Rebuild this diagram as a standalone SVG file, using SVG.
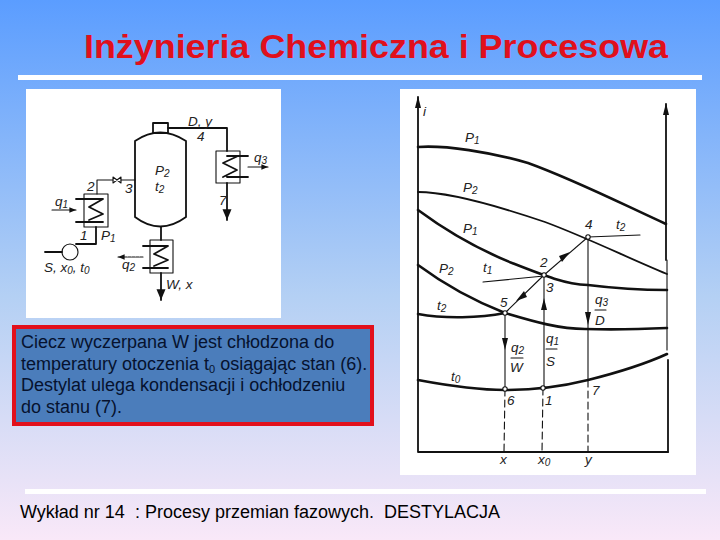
<svg xmlns="http://www.w3.org/2000/svg" width="720" height="540" viewBox="0 0 720 540">
<style>
text{font-family:"Liberation Sans",Arial,sans-serif}
.l{font-size:13.5px;font-style:italic;fill:#222}
.l tspan.s{font-size:10px}
.c{fill:none;stroke:#111;stroke-linecap:round;stroke-linejoin:round}
.t{stroke-width:2.6}.m{stroke-width:1.8}.n{stroke-width:1.1}
.d{stroke-dasharray:7 4}
.p{fill:#fff;stroke:#111;stroke-width:1.1}
.b{font-size:18px;fill:#06122e}
</style>
<defs>
<linearGradient id="bg" x1="0" y1="0" x2="0" y2="1"><stop offset="0" stop-color="#5b9dff"/><stop offset=".55" stop-color="#b4d0f4"/><stop offset="1" stop-color="#f9e8f8"/></linearGradient>
<marker id="a" markerWidth="8" markerHeight="8" refX="6" refY="3" orient="auto"><path d="M0,0.5L6,3L0,5.5Z" fill="#111"/></marker>
</defs>
<rect width="720" height="540" fill="url(#bg)"/>
<text x="84" y="58" font-size="34" font-weight="bold" fill="#e0101c" textLength="584" lengthAdjust="spacingAndGlyphs">Inżynieria Chemiczna i Procesowa</text>
<rect x="18" y="75" width="684" height="5" fill="#fff"/>
<rect x="25" y="489" width="681" height="5" fill="#fff"/>
<rect x="26" y="89" width="255" height="229" fill="#fff"/>
<rect x="400" y="89" width="296" height="386" fill="#fff"/>

<g id="column"><path class="c m" d="M135,141Q160,124 186,141V217Q160,236 135,217Z"/><rect class="c m" x="153" y="123" width="15" height="10"/>
<text class="l" x="155" y="175">P<tspan class="s" dy="2">2</tspan></text><text class="l" x="155" y="191">t<tspan class="s" dy="2">2</tspan></text></g>
<g id="exchanger-1"><rect class="c n" x="84" y="194" width="24" height="33"/><path class="c m" d="M76,199H103L89,207L103,214L89,220M76,222H103"/></g>
<g id="exchanger-2"><rect class="c n" x="150" y="240" width="23" height="33"/><path class="c m" d="M143,246H168L154,254L168,260L154,266M143,268H168"/></g>
<g id="exchanger-3"><rect class="c n" x="216" y="151" width="24" height="32"/><path class="c m" d="M227,156H248M238,156L223,163L237,170L223,177M227,177H248"/></g>
<g id="pump"><circle class="c n" cx="70" cy="252" r="8"/></g>
<g id="connectors">
<path class="c m" d="M168,128H227V151"/><path class="c m" d="M227,183V220" marker-end="url(#a)"/>
<path class="c n" d="M97,194V180H113M121,180H135"/><path class="c n" d="M113,177L121,183V177L113,183Z"/>
<path class="c m" d="M96,227V244H76" /><path class="c m" d="M45,252H62"/>
<path class="c m" d="M161,227V240"/><path class="c m" d="M161,273V300" marker-end="url(#a)"/>
<path class="c n" d="M52,210H76" marker-end="url(#a)"/><path class="c n" d="M143,257H118" stroke-dasharray="3 1" marker-end="url(#a)"/><path class="c n" d="M248,167H268" marker-end="url(#a)"/>
</g>
<g id="scheme-labels">
<text class="l" x="188" y="126">D, y</text><text class="l" x="197" y="141">4</text><text class="l" x="254" y="162">q<tspan class="s" dy="2">3</tspan></text>
<text class="l" x="219" y="205">7</text><text class="l" x="87" y="191">2</text><text class="l" x="125" y="193">3</text>
<text class="l" x="55" y="206">q<tspan class="s" dy="2">1</tspan></text><text class="l" x="80" y="240">1</text><text class="l" x="101" y="240">P<tspan class="s" dy="2">1</tspan></text>
<text class="l" x="44" y="272">S, x<tspan class="s" dy="2">0</tspan><tspan dy="-2">, t</tspan><tspan class="s" dy="2">0</tspan></text>
<text class="l" x="122" y="269">q<tspan class="s" dy="2">2</tspan></text><text class="l" x="166" y="289">W, x</text>
</g>

<g id="chart">
<path class="c m" d="M418,97V452H668"/><path d="M418,96L415,108H421Z" fill="#111"/>
<path class="c m" d="M666,104V260"/><path class="c n" d="M667,260V350"/><path class="c m" d="M668,360V452"/><path d="M666,103L663,115H669Z" fill="#111"/>
<path class="c t" d="M418,147C445,145 490,152 528,163C575,180 620,203 666,224"/>
<path class="c m" d="M418,192C445,192 495,205 545,222C588,238 628,258 667,274"/>
<path class="c t" d="M418,210C445,230 480,250 512,263C545,276 565,284 588,285C620,289 645,290 667,290"/>
<path class="c t" d="M418,265C445,285 472,300 505,313C535,322 560,329 585,329C620,330 645,329 667,328"/>
<path class="c t" d="M418,314C445,319 480,318 505,313"/>
<path class="c t" d="M418,380C450,386 480,390 505,390C530,390 560,387 588,380C620,372 645,364 667,354"/>
<path class="c n" d="M588,237L640,235"/><path class="c n" d="M483,282L544,276"/>
<path class="c n" d="M588,237L544,275"/><path class="c n" d="M544,275L505,313"/>
<path class="c n" d="M588,237V380"/><path class="c n" d="M505,313V389"/><path class="c n" d="M544,388V275"/>
<path class="c n d" d="M588,380V452M505,389L504,452M543,388L542,452"/>
<path d="M570,252L562,262L559,256Z M516,301L524,291L527,297Z M505,350L502,338H508Z M544,298L541,310H547Z M588,325L585,312H591Z" fill="#111"/>
<circle class="p" cx="588" cy="237" r="2.2"/><circle class="p" cx="544" cy="275" r="2.2"/><circle class="p" cx="505" cy="313" r="2.2"/><circle class="p" cx="505" cy="389" r="2.2"/><circle class="p" cx="543" cy="388" r="2.2"/>
<path class="c n" d="M511,358H523M546,349H557M595,310H606"/>
</g>
<g id="chart-labels">
<text class="l" x="423" y="116">i</text>
<text class="l" x="465" y="142">P<tspan class="s" dy="2">1</tspan></text><text class="l" x="463" y="192">P<tspan class="s" dy="2">2</tspan></text><text class="l" x="463" y="233">P<tspan class="s" dy="2">1</tspan></text><text class="l" x="439" y="273">P<tspan class="s" dy="2">2</tspan></text>
<text class="l" x="483" y="272">t<tspan class="s" dy="2">1</tspan></text><text class="l" x="437" y="310">t<tspan class="s" dy="2">2</tspan></text><text class="l" x="616" y="229">t<tspan class="s" dy="2">2</tspan></text>
<text class="l" x="540" y="267">2</text><text class="l" x="585" y="229">4</text><text class="l" x="546" y="292">3</text><text class="l" x="500" y="307">5</text>
<text class="l" x="595" y="304">q<tspan class="s" dy="2">3</tspan></text><text class="l" x="595" y="325">D</text>
<text class="l" x="511" y="352">q<tspan class="s" dy="2">2</tspan></text><text class="l" x="510" y="372">W</text>
<text class="l" x="546" y="343">q<tspan class="s" dy="2">1</tspan></text><text class="l" x="546" y="366">S</text>
<text class="l" x="451" y="381">t<tspan class="s" dy="2">0</tspan></text><text class="l" x="507" y="405">6</text><text class="l" x="545" y="405">1</text><text class="l" x="592" y="395">7</text>
<text class="l" x="500" y="464">x</text><text class="l" x="538" y="464">x<tspan class="s" dy="2">0</tspan></text><text class="l" x="585" y="464">y</text>
</g>

<g id="note">
<rect x="14" y="327" width="358" height="97" fill="#4b7dbb" stroke="#e2101c" stroke-width="4"/>
<text class="b" x="21" y="348">Ciecz wyczerpana W jest chłodzona do</text>
<text class="b" x="21" y="370">temperatury otoczenia t<tspan font-size="11" dy="3">0</tspan><tspan dy="-3"> osiągając stan (6).</tspan></text>
<text class="b" x="21" y="391">Destylat ulega kondensacji i ochłodzeniu</text>
<text class="b" x="21" y="413">do stanu (7).</text>
</g>
<text x="20" y="518" font-size="18" fill="#000" xml:space="preserve">Wykład nr 14  : Procesy przemian fazowych.  DESTYLACJA</text>
</svg>
